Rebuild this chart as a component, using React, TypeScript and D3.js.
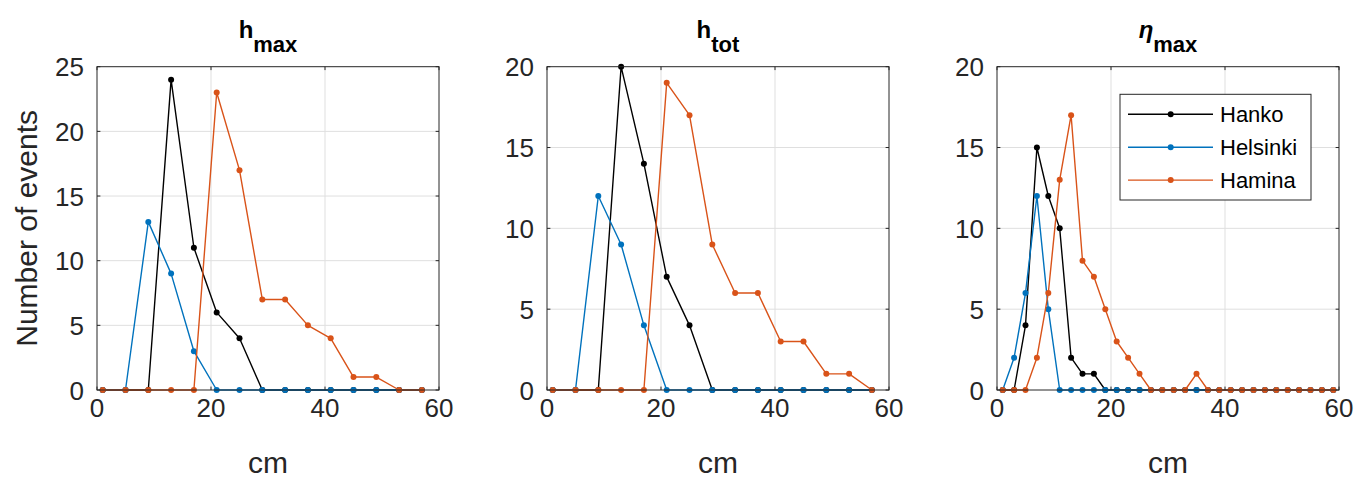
import React from "react";
import * as d3 from "d3";

const seriesNames = ["Hanko", "Helsinki", "Hamina"];
const seriesColors = ["#000000", "#0072BD", "#D95319"];

const xCoarse = [1, 5, 9, 13, 17, 21, 25, 29, 33, 37, 41, 45, 49, 53, 57];
const xFine = [1, 3, 5, 7, 9, 11, 13, 15, 17, 19, 21, 23, 25, 27, 29, 31, 33, 35, 37, 39, 41, 43, 45, 47, 49, 51, 53, 55, 57, 59];

const hmaxHanko = [0, 0, 0, 24, 11, 6, 4, 0, 0, 0, 0, 0, 0, 0, 0];
const hmaxHelsinki = [0, 0, 13, 9, 3, 0, 0, 0, 0, 0, 0, 0, 0, 0, 0];
const hmaxHamina = [0, 0, 0, 0, 0, 23, 17, 7, 7, 5, 4, 1, 1, 0, 0];

const htotHanko = [0, 0, 0, 20, 14, 7, 4, 0, 0, 0, 0, 0, 0, 0, 0];
const htotHelsinki = [0, 0, 12, 9, 4, 0, 0, 0, 0, 0, 0, 0, 0, 0, 0];
const htotHamina = [0, 0, 0, 0, 0, 19, 17, 9, 6, 6, 3, 3, 1, 1, 0];

const etaHanko = [0, 0, 4, 15, 12, 10, 2, 1, 1, 0, 0, 0, 0, 0, 0, 0, 0, 0, 0, 0, 0, 0, 0, 0, 0, 0, 0, 0, 0, 0];
const etaHelsinki = [0, 2, 6, 12, 5, 0, 0, 0, 0, 0, 0, 0, 0, 0, 0, 0, 0, 0, 0, 0, 0, 0, 0, 0, 0, 0, 0, 0, 0, 0];
const etaHamina = [0, 0, 0, 2, 6, 13, 17, 8, 7, 5, 3, 2, 1, 0, 0, 0, 0, 1, 0, 0, 0, 0, 0, 0, 0, 0, 0, 0, 0, 0];

const xTicks = [0, 20, 40, 60];
const yTicks25 = [0, 5, 10, 15, 20, 25];
const yTicks20 = [0, 5, 10, 15, 20];

const panels = [
  { main: "h", sub: "max", italic: false, x: xCoarse, yMax: 25, yTicks: yTicks25, series: [hmaxHanko, hmaxHelsinki, hmaxHamina], legend: false, ylabel: true },
  { main: "h", sub: "tot", italic: false, x: xCoarse, yMax: 20, yTicks: yTicks20, series: [htotHanko, htotHelsinki, htotHamina], legend: false, ylabel: false },
  { main: "η", sub: "max", italic: true, x: xFine, yMax: 20, yTicks: yTicks20, series: [etaHanko, etaHelsinki, etaHamina], legend: true, ylabel: false },
];

const W = 1357;
const H = 479;
const FONT = "'Liberation Sans', Arial, Helvetica, sans-serif";
const TXT = "#262626";
const GRID = "#dfdfdf";
const panelLefts = [97, 547, 997];
const PW = 342;
const TOP = 66.7;
const BOTTOM = 390;

function Panel({ p, left }: { p: typeof panels[0]; left: number }) {
  const x = d3.scaleLinear().domain([0, 60]).range([left, left + PW]);
  const y = d3.scaleLinear().domain([0, p.yMax]).range([BOTTOM, TOP]);
  const line = d3.line<[number, number]>().x((d) => x(d[0])).y((d) => y(d[1]));
  const tick = 3.4;
  const cx = left + PW / 2;
  return (
    <g>
      {xTicks.filter((t) => t > 0 && t < 60).map((t) => (
        <line key={"gx" + t} x1={x(t)} x2={x(t)} y1={TOP} y2={BOTTOM} stroke={GRID} strokeWidth={1} />
      ))}
      {p.yTicks.filter((t) => t > 0 && t < p.yMax).map((t) => (
        <line key={"gy" + t} x1={left} x2={left + PW} y1={y(t)} y2={y(t)} stroke={GRID} strokeWidth={1} />
      ))}
      {p.series.map((s, i) => {
        const pts: [number, number][] = p.x.map((xv, j) => [xv, s[j]]);
        return (
          <g key={"s" + i}>
            <path d={line(pts) || ""} fill="none" stroke={seriesColors[i]} strokeWidth={1.4} strokeLinejoin="round" />
            {pts.map((d, j) => (
              <circle key={j} cx={x(d[0])} cy={y(d[1])} r={3} fill={seriesColors[i]} />
            ))}
          </g>
        );
      })}
      <rect x={left} y={TOP} width={PW} height={BOTTOM - TOP} fill="none" stroke={TXT} strokeWidth={1} />
      {xTicks.map((t) => (
        <g key={"tx" + t}>
          <line x1={x(t)} x2={x(t)} y1={BOTTOM} y2={BOTTOM - tick} stroke={TXT} />
          <line x1={x(t)} x2={x(t)} y1={TOP} y2={TOP + tick} stroke={TXT} />
          <text x={x(t)} y={BOTTOM + 27} textAnchor="middle" fontSize={26} fill={TXT} fontFamily={FONT}>{t}</text>
        </g>
      ))}
      {p.yTicks.map((t) => (
        <g key={"ty" + t}>
          <line x1={left} x2={left + tick} y1={y(t)} y2={y(t)} stroke={TXT} />
          <line x1={left + PW} x2={left + PW - tick} y1={y(t)} y2={y(t)} stroke={TXT} />
          <text x={left - 13} y={y(t) + 9.5} textAnchor="end" fontSize={26} fill={TXT} fontFamily={FONT}>{t}</text>
        </g>
      ))}
      <text x={cx} y={473} textAnchor="middle" fontSize={30} fill={TXT} fontFamily={FONT}>cm</text>
      {p.ylabel && (
        <text transform={`translate(37,${(TOP + BOTTOM) / 2}) rotate(-90)`} textAnchor="middle" fontSize={30} fill={TXT} fontFamily={FONT}>Number of events</text>
      )}
      <text x={cx} y={38.3} textAnchor="middle" fontFamily={FONT} fontWeight="bold" fill="#000">
        <tspan fontSize={24} fontStyle={p.italic ? "italic" : "normal"}>{p.main}</tspan>
        <tspan fontSize={22} dy={14}>{p.sub}</tspan>
      </text>
      {p.legend && (
        <g>
          <rect x={1120} y={94.3} width={191} height={105.7} fill="#fff" stroke={TXT} strokeWidth={1} />
          {seriesNames.map((n, i) => {
            const ly = 114.3 + i * 32.9;
            return (
              <g key={n}>
                <line x1={1128} x2={1213} y1={ly} y2={ly} stroke={seriesColors[i]} strokeWidth={1.4} />
                <circle cx={1170.7} cy={ly} r={3} fill={seriesColors[i]} />
                <text x={1220} y={ly + 8} fontSize={22} fill="#000" fontFamily={FONT}>{n}</text>
              </g>
            );
          })}
        </g>
      )}
    </g>
  );
}

export default function App() {
  return (
    <svg width={W} height={H} style={{ position: "absolute", left: 0, top: 0, background: "#fff" }}>
      <rect x={0} y={0} width={W} height={H} fill="#fff" />
      {panels.map((p, i) => (
        <Panel key={i} p={p} left={panelLefts[i]} />
      ))}
    </svg>
  );
}
